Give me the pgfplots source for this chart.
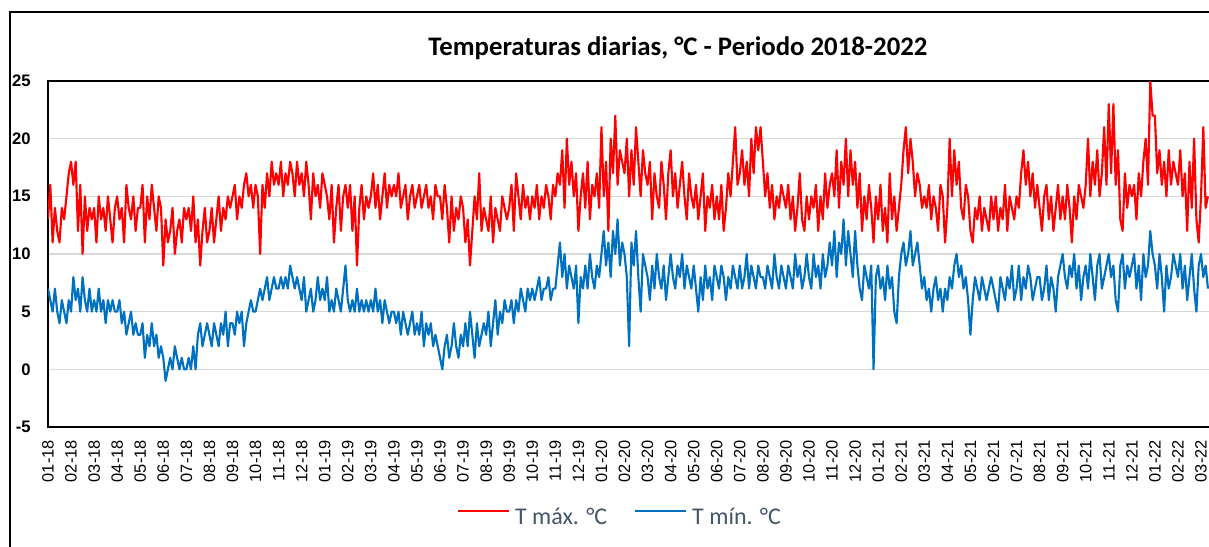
\documentclass[border=0pt]{standalone}
\usepackage{pgfplots}
\pgfplotsset{compat=1.18}
\usepackage{pgfplotstable}
\usepackage{fontspec}
\setmainfont{Liberation Sans}
\newfontfamily\calibri{Carlito}
\definecolor{tmax}{HTML}{FF0000}
\definecolor{tmin}{HTML}{0070C0}
\definecolor{gridc}{HTML}{D9D9D9}
\definecolor{legtext}{HTML}{44546A}

% T max, 10 values per month from 01-18, 4 values for 03-22
\pgfplotstableread[header=false,row sep=\\]{
13\\16\\11\\14\\12\\11\\14\\13\\15\\17\\
18\\16\\18\\12\\16\\10\\15\\12\\14\\13\\
14\\11\\15\\13\\14\\12\\15\\13\\11\\14\\
15\\13\\14\\11\\16\\14\\13\\15\\12\\14\\
14\\16\\11\\15\\13\\16\\14\\12\\15\\14\\
9\\13\\11\\12\\14\\10\\12\\13\\11\\14\\
13\\14\\12\\15\\11\\13\\9\\12\\14\\11\\
12\\14\\11\\13\\15\\12\\14\\13\\15\\14\\
15\\16\\13\\15\\14\\16\\17\\15\\16\\14\\
16\\15\\10\\16\\14\\17\\15\\18\\16\\17\\
16\\18\\15\\17\\16\\18\\17\\15\\18\\16\\
17\\15\\18\\16\\13\\17\\15\\16\\14\\17\\
16\\15\\13\\16\\11\\14\\16\\12\\15\\16\\
14\\16\\12\\15\\9\\14\\16\\13\\15\\14\\
15\\17\\14\\16\\13\\15\\17\\14\\16\\15\\
16\\15\\17\\14\\15\\16\\13\\15\\16\\14\\
15\\16\\14\\15\\16\\14\\15\\13\\16\\15\\
15\\13\\16\\14\\11\\15\\12\\14\\13\\15\\
14\\11\\13\\9\\12\\15\\13\\17\\12\\14\\
13\\12\\15\\11\\14\\13\\12\\15\\14\\13\\
14\\16\\12\\17\\15\\13\\16\\14\\15\\13\\
15\\14\\16\\13\\15\\14\\16\\15\\13\\16\\
15\\17\\16\\19\\14\\20\\16\\18\\15\\17\\
12\\15\\17\\14\\18\\13\\16\\15\\17\\14\\
21\\15\\18\\12\\20\\17\\22\\16\\19\\18\\
17\\20\\15\\19\\16\\21\\18\\15\\19\\17\\
16\\18\\13\\17\\15\\14\\18\\16\\13\\17\\
19\\15\\17\\14\\16\\18\\15\\13\\17\\15\\
14\\16\\13\\15\\17\\12\\15\\14\\16\\13\\
15\\13\\16\\12\\14\\17\\15\\18\\21\\16\\
17\\19\\16\\18\\15\\20\\17\\21\\19\\21\\
18\\15\\17\\14\\16\\13\\15\\14\\16\\15\\
14\\16\\13\\15\\12\\14\\17\\13\\12\\15\\
13\\15\\14\\16\\12\\15\\13\\17\\14\\16\\
17\\15\\19\\14\\18\\16\\20\\15\\19\\16\\
18\\14\\17\\12\\15\\13\\16\\14\\11\\15\\
13\\16\\12\\14\\11\\17\\13\\15\\12\\14\\
16\\19\\21\\17\\20\\18\\15\\17\\16\\14\\
15\\14\\16\\13\\15\\14\\12\\16\\15\\11\\
14\\20\\15\\19\\16\\18\\14\\13\\16\\15\\
12\\11\\14\\13\\15\\12\\14\\13\\12\\15\\
13\\15\\12\\14\\13\\16\\12\\15\\14\\13\\
15\\14\\17\\19\\16\\18\\15\\17\\14\\16\\
14\\12\\15\\16\\13\\15\\12\\14\\16\\13\\
15\\13\\16\\14\\11\\15\\13\\16\\15\\14\\
16\\20\\15\\18\\16\\19\\15\\17\\21\\16\\
23\\17\\23\\16\\19\\13\\12\\17\\14\\16\\
15\\16\\13\\17\\15\\18\\20\\16\\25\\22\\
22\\17\\19\\16\\18\\15\\19\\16\\18\\17\\
16\\19\\15\\17\\12\\18\\14\\20\\13\\11\\
15\\21\\14\\15\\
}\tmaxdata

% T min
\pgfplotstableread[header=false,row sep=\\]{
7\\6\\5\\7\\5\\4\\6\\5\\4\\6\\
5\\8\\6\\7\\5\\8\\6\\5\\7\\5\\
6\\5\\7\\5\\6\\4\\6\\5\\6\\5\\
5\\6\\4\\5\\3\\4\\5\\3\\4\\3\\
3\\4\\1\\3\\2\\4\\2\\3\\1\\2\\
1\\-1\\0\\1\\0\\2\\1\\0\\1\\0\\
0\\1\\0\\2\\0\\3\\4\\2\\3\\4\\
3\\2\\4\\3\\2\\4\\3\\5\\2\\4\\
4\\3\\5\\4\\5\\2\\4\\5\\6\\5\\
5\\6\\7\\6\\7\\8\\6\\7\\8\\7\\
7\\8\\7\\8\\7\\9\\8\\7\\8\\7\\
6\\8\\5\\6\\7\\5\\6\\8\\6\\7\\
6\\8\\5\\6\\5\\7\\6\\5\\7\\9\\
6\\5\\6\\5\\7\\5\\6\\5\\6\\5\\
6\\5\\7\\5\\6\\4\\6\\5\\4\\5\\
5\\4\\5\\3\\5\\4\\3\\4\\5\\3\\
4\\3\\5\\2\\4\\3\\4\\2\\3\\2\\
1\\0\\2\\3\\1\\2\\4\\2\\1\\3\\
2\\4\\2\\5\\3\\1\\4\\2\\3\\4\\
3\\5\\2\\4\\6\\3\\5\\4\\6\\5\\
5\\6\\4\\6\\5\\7\\6\\5\\7\\6\\
7\\6\\7\\8\\6\\7\\7\\8\\6\\7\\
7\\9\\11\\8\\10\\7\\9\\8\\7\\9\\
4\\8\\7\\9\\7\\10\\8\\7\\9\\8\\
10\\12\\9\\11\\8\\12\\10\\13\\9\\11\\
10\\8\\2\\11\\9\\12\\8\\5\\10\\9\\
8\\6\\9\\7\\10\\8\\7\\9\\6\\8\\
10\\8\\7\\9\\8\\10\\7\\9\\8\\7\\
9\\7\\5\\8\\6\\9\\7\\8\\6\\9\\
8\\7\\9\\8\\6\\8\\7\\9\\8\\7\\
9\\7\\8\\10\\7\\9\\8\\7\\9\\8\\
8\\7\\9\\8\\7\\10\\8\\7\\9\\8\\
7\\9\\8\\7\\10\\8\\9\\7\\8\\10\\
8\\7\\10\\8\\9\\7\\10\\8\\9\\11\\
9\\12\\8\\11\\10\\13\\9\\12\\10\\8\\
12\\9\\7\\6\\9\\8\\7\\9\\0\\8\\
9\\7\\8\\6\\9\\7\\8\\5\\4\\8\\
10\\11\\9\\10\\12\\9\\10\\11\\9\\7\\
8\\6\\7\\5\\7\\8\\6\\7\\5\\7\\
6\\8\\7\\9\\10\\8\\9\\7\\8\\6\\
3\\6\\8\\7\\6\\8\\7\\6\\7\\8\\
7\\6\\5\\8\\7\\6\\8\\7\\9\\6\\
7\\9\\6\\8\\7\\9\\8\\6\\7\\8\\
8\\6\\7\\9\\6\\8\\7\\5\\8\\9\\
10\\8\\7\\9\\8\\10\\7\\9\\6\\8\\
9\\7\\10\\8\\6\\9\\10\\7\\8\\9\\
10\\8\\9\\6\\5\\9\\10\\7\\9\\8\\
9\\10\\7\\9\\6\\10\\8\\9\\12\\10\\
9\\7\\10\\8\\5\\9\\7\\8\\10\\9\\
8\\10\\7\\9\\6\\8\\10\\7\\5\\9\\
10\\8\\9\\7\\
}\tmindata

\begin{document}
\begin{tikzpicture}
\useasboundingbox (0,0) rectangle (906.75pt,-409.5pt);
\draw[line width=1.1pt] (7.5pt,-430pt) -- (7.5pt,-9pt) -- (930pt,-9pt);
\begin{axis}[
  at={(36pt,-320.25pt)}, anchor=south west,
  scale only axis, width=873pt, height=259.5pt,
  xmin=0, xmax=50.477, ymin=-5, ymax=25,
  xtick={0,...,50},
  xticklabels={01-18,02-18,03-18,04-18,05-18,06-18,07-18,08-18,09-18,10-18,11-18,12-18,
    01-19,02-19,03-19,04-19,05-19,06-19,07-19,08-19,09-19,10-19,11-19,12-19,
    01-20,02-20,03-20,04-20,05-20,06-20,07-20,08-20,09-20,10-20,11-20,12-20,
    01-21,02-21,03-21,04-21,05-21,06-21,07-21,08-21,09-21,10-21,11-21,12-21,
    01-22,02-22,03-22},
  ytick={-5,0,5,10,15,20,25},
  yticklabels={-5,0,5,10,15,20,25},
  major tick length=0pt,
  ymajorgrids,
  major grid style={draw=gridc, line width=1.1pt},
  axis line style={line width=1.1pt, black},
  xticklabel style={yshift=-9.75pt, rotate=90, anchor=east, inner sep=0pt,
    font=\fontsize{12.3}{13}\selectfont},
  yticklabel style={xshift=-12.75pt, anchor=east, inner sep=0pt,
    font=\fontsize{12.5}{13}\selectfont\bfseries},
  title={Temperaturas diarias, °C - Periodo 2018-2022},
  title style={at={(axis description cs:0.5412,1.0723)}, anchor=center, inner sep=0pt,
    font=\calibri\bfseries\fontsize{20.1}{22}\selectfont},
  legend columns=2,
  legend style={at={(axis description cs:0.4905,-0.2601)}, anchor=center,
    draw=none, fill=none, text=legtext,
    font=\calibri\fontsize{18}{20}\selectfont,
    nodes={inner sep=0pt},
    /tikz/every odd column/.append style={column sep=3.75pt},
    /tikz/every even column/.append style={column sep=20.25pt}},
  legend image code/.code={\draw[#1, line width=1.5pt] (0pt,0.45em) -- (38.25pt,0.45em);},
]
\addplot[tmax, line width=1.6pt, line join=round] table[x expr=\coordindex/10, y index=0] {\tmaxdata};
\addlegendentry{T máx. °C}
\addplot[tmin, line width=1.6pt, line join=round] table[x expr=\coordindex/10, y index=0] {\tmindata};
\addlegendentry{T mín. °C}
\end{axis}
\end{tikzpicture}
\end{document}
